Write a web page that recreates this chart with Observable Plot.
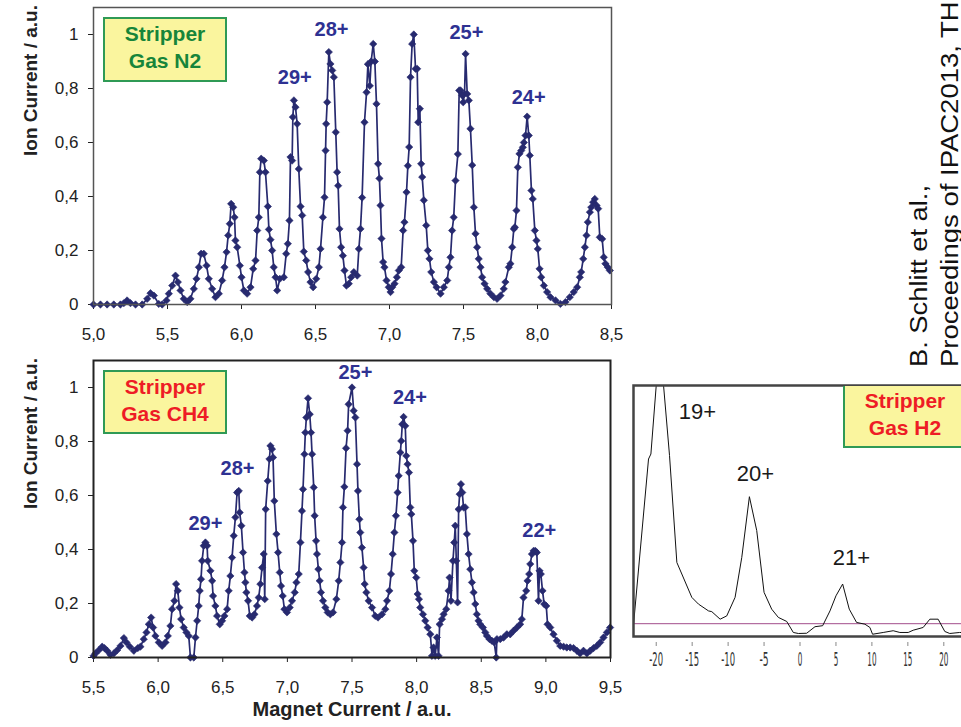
<!DOCTYPE html>
<html><head><meta charset="utf-8">
<script src="https://cdn.jsdelivr.net/npm/d3@7"></script>
<script src="https://cdn.jsdelivr.net/npm/@observablehq/plot@0.6"></script>
<style>
html,body{margin:0;padding:0;background:#fff;}
#root{position:relative;width:961px;height:727px;overflow:hidden;font-family:"Liberation Sans",Arial,sans-serif;}
.panel{position:absolute;}
.box{position:absolute;box-sizing:border-box;background:#faf59e;border:2px solid #2f9a55;text-align:center;font-weight:bold;font-size:21px;line-height:27px;padding-top:1px;}
</style></head><body><div id="root"></div>
<script>
// ---------- data ----------
const yTicks = [0, 0.2, 0.4, 0.6, 0.8, 1];
const xTicksN2 = [5.0, 5.5, 6.0, 6.5, 7.0, 7.5, 8.0, 8.5];
const xTicksCH4 = [5.5, 6.0, 6.5, 7.0, 7.5, 8.0, 8.5, 9.0, 9.5];
const xTicksH2 = [-20, -15, -10, -5, 0, 5, 10, 15, 20];

// Stripper gas N2: [magnet current, ion current]
const n2 = [[5.00,0],[5.047,0],[5.092,0],[5.137,0],[5.182,0],[5.205,0.005],[5.227,0.015],[5.25,0.005],[5.284,0],[5.329,0],[5.363,0.021],[5.385,0.042],[5.408,0.033],[5.441,0.002],[5.464,0],[5.493,0.015],[5.509,0.040],[5.532,0.070],[5.554,0.107],[5.570,0.083],[5.588,0.052],[5.610,0.021],[5.633,0.009],[5.655,0.021],[5.678,0.058],[5.696,0.095],[5.712,0.138],[5.727,0.188],[5.745,0.188],[5.764,0.144],[5.779,0.095],[5.802,0.058],[5.824,0.027],[5.847,0.040],[5.869,0.089],[5.885,0.138],[5.899,0.194],[5.910,0.256],[5.921,0.299],[5.930,0.373],[5.944,0.360],[5.953,0.323],[5.959,0.237],[5.971,0.212],[5.989,0.144],[6.000,0.101],[6.016,0.052],[6.038,0.040],[6.061,0.064],[6.079,0.132],[6.095,0.163],[6.106,0.274],[6.117,0.323],[6.124,0.490],[6.133,0.540],[6.151,0.533],[6.162,0.490],[6.178,0.363],[6.185,0.278],[6.196,0.240],[6.207,0.200],[6.218,0.138],[6.230,0.101],[6.241,0.052],[6.259,0.095],[6.286,0.101],[6.302,0.188],[6.313,0.225],[6.324,0.311],[6.331,0.546],[6.342,0.533],[6.347,0.694],[6.354,0.756],[6.365,0.731],[6.376,0.669],[6.387,0.502],[6.399,0.363],[6.410,0.330],[6.421,0.196],[6.437,0.163],[6.450,0.120],[6.466,0.083],[6.484,0.064],[6.505,0.095],[6.523,0.138],[6.534,0.206],[6.550,0.323],[6.561,0.397],[6.568,0.570],[6.572,0.669],[6.579,0.749],[6.590,0.935],[6.601,0.891],[6.613,0.867],[6.624,0.842],[6.637,0.638],[6.646,0.490],[6.653,0.440],[6.662,0.280],[6.673,0.212],[6.685,0.181],[6.696,0.126],[6.709,0.070],[6.725,0.077],[6.741,0.101],[6.759,0.120],[6.782,0.107],[6.793,0.206],[6.804,0.280],[6.815,0.396],[6.831,0.675],[6.845,0.786],[6.854,0.890],[6.867,0.810],[6.876,0.900],[6.890,0.965],[6.901,0.900],[6.912,0.743],[6.923,0.521],[6.932,0.467],[6.939,0.367],[6.946,0.244],[6.957,0.157],[6.966,0.138],[6.980,0.089],[6.995,0.064],[7.007,0.046],[7.018,0.064],[7.034,0.077],[7.050,0.101],[7.063,0.126],[7.079,0.138],[7.092,0.274],[7.101,0.305],[7.115,0.416],[7.124,0.514],[7.133,0.583],[7.142,0.842],[7.153,0.965],[7.164,1.0],[7.176,0.873],[7.187,0.873],[7.194,0.675],[7.205,0.725],[7.214,0.521],[7.221,0.472],[7.232,0.386],[7.248,0.293],[7.259,0.200],[7.270,0.169],[7.282,0.120],[7.300,0.083],[7.318,0.064],[7.345,0.040],[7.367,0.064],[7.390,0.089],[7.401,0.138],[7.412,0.175],[7.423,0.274],[7.434,0.323],[7.446,0.459],[7.462,0.557],[7.471,0.793],[7.480,0.793],[7.491,0.775],[7.498,0.749],[7.507,0.780],[7.514,0.928],[7.525,0.780],[7.536,0.756],[7.547,0.651],[7.559,0.516],[7.570,0.360],[7.581,0.262],[7.592,0.212],[7.603,0.169],[7.615,0.138],[7.626,0.101],[7.642,0.077],[7.660,0.058],[7.682,0.040],[7.705,0.027],[7.727,0.021],[7.750,0.033],[7.772,0.058],[7.783,0.083],[7.806,0.138],[7.817,0.151],[7.829,0.212],[7.840,0.280],[7.847,0.286],[7.858,0.348],[7.867,0.508],[7.878,0.558],[7.890,0.570],[7.901,0.582],[7.908,0.600],[7.919,0.626],[7.930,0.696],[7.941,0.626],[7.948,0.552],[7.959,0.422],[7.968,0.391],[7.982,0.274],[7.993,0.237],[8.002,0.206],[8.014,0.132],[8.025,0.101],[8.043,0.070],[8.065,0.046],[8.088,0.027],[8.122,0.015],[8.155,0.002],[8.189,0.009],[8.218,0.027],[8.245,0.046],[8.268,0.064],[8.286,0.101],[8.295,0.120],[8.309,0.169],[8.320,0.212],[8.331,0.256],[8.340,0.305],[8.354,0.342],[8.363,0.360],[8.376,0.379],[8.387,0.391],[8.399,0.367],[8.410,0.355],[8.421,0.249],[8.437,0.243],[8.448,0.175],[8.459,0.151],[8.475,0.138],[8.489,0.126]];

// Stripper gas CH4
const ch4 = [[5.5,0.006],[5.515,0.015],[5.541,0.027],[5.567,0.040],[5.585,0.035],[5.606,0.025],[5.631,0.010],[5.657,0.015],[5.683,0.027],[5.709,0.043],[5.735,0.072],[5.755,0.056],[5.781,0.040],[5.812,0.025],[5.843,0.035],[5.863,0.040],[5.889,0.068],[5.910,0.093],[5.928,0.123],[5.946,0.148],[5.961,0.111],[5.979,0.080],[6.005,0.056],[6.031,0.043],[6.057,0.056],[6.075,0.080],[6.095,0.117],[6.108,0.179],[6.126,0.210],[6.139,0.272],[6.152,0.247],[6.165,0.185],[6.178,0.142],[6.198,0.111],[6.219,0.093],[6.237,0.080],[6.250,0],[6.276,0],[6.289,0.074],[6.302,0.136],[6.314,0.191],[6.322,0.247],[6.332,0.290],[6.340,0.358],[6.353,0.414],[6.366,0.426],[6.379,0.414],[6.384,0.358],[6.405,0.321],[6.418,0.284],[6.425,0.228],[6.443,0.191],[6.456,0.154],[6.477,0.123],[6.495,0.136],[6.513,0.154],[6.534,0.179],[6.546,0.247],[6.559,0.302],[6.572,0.370],[6.585,0.451],[6.598,0.519],[6.611,0.611],[6.624,0.617],[6.631,0.537],[6.644,0.488],[6.657,0.389],[6.668,0.315],[6.675,0.278],[6.683,0.241],[6.696,0.210],[6.709,0.154],[6.727,0.148],[6.745,0.160],[6.765,0.191],[6.778,0.222],[6.791,0.272],[6.804,0.333],[6.817,0.383],[6.825,0.216],[6.832,0.549],[6.848,0.654],[6.861,0.735],[6.869,0.784],[6.881,0.772],[6.889,0.741],[6.899,0.580],[6.915,0.457],[6.928,0.389],[6.941,0.315],[6.951,0.265],[6.964,0.228],[6.977,0.179],[6.997,0.167],[7.018,0.185],[7.036,0.210],[7.057,0.241],[7.070,0.278],[7.088,0.309],[7.101,0.426],[7.113,0.543],[7.121,0.623],[7.132,0.753],[7.139,0.833],[7.147,0.889],[7.160,0.960],[7.173,0.901],[7.183,0.833],[7.191,0.753],[7.204,0.630],[7.211,0.525],[7.222,0.432],[7.229,0.383],[7.240,0.327],[7.250,0.284],[7.260,0.241],[7.276,0.210],[7.294,0.185],[7.312,0.167],[7.332,0.160],[7.353,0.167],[7.379,0.216],[7.397,0.284],[7.410,0.352],[7.423,0.426],[7.430,0.556],[7.441,0.632],[7.454,0.775],[7.466,0.840],[7.474,0.938],[7.500,1.0],[7.513,0.914],[7.526,0.889],[7.539,0.716],[7.546,0.617],[7.557,0.512],[7.564,0.463],[7.577,0.407],[7.590,0.333],[7.598,0.272],[7.611,0.241],[7.629,0.210],[7.655,0.185],[7.680,0.154],[7.701,0.148],[7.732,0.160],[7.758,0.179],[7.771,0.210],[7.789,0.247],[7.802,0.309],[7.815,0.383],[7.828,0.463],[7.840,0.525],[7.853,0.611],[7.861,0.673],[7.874,0.759],[7.881,0.802],[7.889,0.864],[7.899,0.891],[7.912,0.858],[7.920,0.747],[7.930,0.716],[7.941,0.685],[7.951,0.556],[7.959,0.531],[7.972,0.432],[7.982,0.321],[7.997,0.296],[8.008,0.235],[8.018,0.216],[8.028,0.185],[8.049,0.160],[8.067,0.136],[8.085,0.111],[8.106,0.086],[8.119,0.006],[8.131,0.037],[8.144,0.006],[8.157,0.074],[8.170,0.006],[8.178,0.123],[8.196,0.142],[8.209,0.160],[8.229,0.179],[8.247,0.247],[8.255,0.296],[8.266,0.210],[8.281,0.358],[8.291,0.426],[8.299,0.488],[8.307,0.358],[8.317,0.204],[8.325,0.549],[8.333,0.605],[8.343,0.642],[8.353,0.611],[8.363,0.556],[8.376,0.556],[8.389,0.457],[8.402,0.383],[8.415,0.327],[8.428,0.278],[8.441,0.241],[8.454,0.198],[8.466,0.160],[8.479,0.136],[8.492,0.123],[8.513,0.111],[8.531,0.093],[8.544,0.080],[8.564,0.068],[8.582,0.062],[8.600,0.056],[8.616,0],[8.621,0.068],[8.647,0.068],[8.673,0.074],[8.698,0.086],[8.724,0.086],[8.750,0.099],[8.776,0.111],[8.801,0.123],[8.814,0.142],[8.827,0.222],[8.848,0.247],[8.858,0.284],[8.871,0.309],[8.879,0.346],[8.892,0.383],[8.905,0.395],[8.918,0.395],[8.930,0.389],[8.943,0.210],[8.951,0.321],[8.961,0.309],[8.974,0.247],[8.987,0.198],[9.003,0.191],[9.013,0.123],[9.034,0.111],[9.059,0.086],[9.085,0.062],[9.111,0.043],[9.137,0.040],[9.162,0.037],[9.188,0.037],[9.214,0.035],[9.240,0.025],[9.265,0.015],[9.291,0.025],[9.317,0.015],[9.343,0.025],[9.369,0.035],[9.394,0.043],[9.420,0.056],[9.446,0.074],[9.472,0.093],[9.497,0.111]];

// Stripper gas H2 (arbitrary units)
const h2 = [[-23.15,4.9],[-21.07,70.7],[-20.74,72.7],[-20.0,100],[-18.98,100],[-18.15,72.1],[-17.13,29.5],[-16.44,24.9],[-15.05,15.6],[-14.12,12.9],[-12.73,10.2],[-12.27,9.9],[-11.11,6.9],[-10.19,8.2],[-9.03,15.6],[-8.10,31.5],[-7.04,55.7],[-6.02,42.2],[-5.0,17.6],[-3.94,10.9],[-3.01,7.6],[-1.85,6.0],[-0.93,1.6],[-0.23,1.2],[0.93,1.3],[2.08,3.9],[3.15,4.3],[4.17,10.2],[5.0,16.2],[5.93,20.9],[6.85,10.9],[7.87,5.6],[9.03,4.9],[9.72,3.6],[10.09,0.9],[11.57,1.6],[12.96,2.3],[13.89,1.6],[15.05,1.6],[15.74,2.5],[17.13,3.6],[18.06,6.9],[19.21,6.9],[20.14,2.0],[20.83,1.2],[22.2,1.6],[24.5,1.5]];
const h2Baseline = 5.1;

// charge state labels
const n2PeakText = ["29+", "28+", "25+", "24+"];
const n2PeakX = [6.36, 6.608, 7.52, 7.94];
const n2PeakY = [0.841, 1.019, 1.007, 0.767];
const ch4PeakText = ["29+", "28+", "25+", "24+", "22+"];
const ch4PeakX = [6.366, 6.614, 7.526, 7.948, 8.949];
const ch4PeakY = [0.496, 0.70, 1.056, 0.963, 0.470];
const h2PeakText = ["19+", "20+", "21+"];
const h2PeakX = [-14.26, -6.19, 7.16];
const h2PeakY = [89.6, 64.9, 31.4];

// ---------- rendering ----------
const navy = "#272a6f";
const labelBlue = "#2e3192";
const font = "'Liberation Sans', Arial, sans-serif";
const fmtComma = d => String(d).replace(".", ",");
const fmtComma1 = d => d3.format(".1f")(d).replace(".", ",");
const peaks = (t, xs, ys) => t.map((text, i) => ({text, x: xs[i], y: ys[i]}));
const root = document.getElementById("root");

function place(node, left, top) {
  node.classList.add("panel");
  node.style.left = left + "px";
  node.style.top = top + "px";
  root.appendChild(node);
}

function ionPanel({data, xDomain, xTicks, labels, height, marginTop, marginBottom, marginRight, frameColor, frameWidth, extra = []}) {
  return Plot.plot({
    width: 640, height,
    marginLeft: 93, marginRight, marginTop, marginBottom,
    x: {domain: xDomain},
    y: {domain: [0, 1.1]},
    style: {fontFamily: font, fontSize: "17px", color: "#222", background: "transparent", overflow: "visible"},
    marks: [
      Plot.axisY({ticks: yTicks, tickFormat: fmtComma, tickSize: 5, tickPadding: 10, label: null}),
      Plot.axisX({ticks: xTicks, tickFormat: fmtComma1, tickSize: 5, tickPadding: 18, label: null}),
      Plot.line(data, {x: d => d[0], y: d => d[1], stroke: navy, strokeWidth: 1.7}),
      Plot.dot(data, {x: d => d[0], y: d => d[1], symbol: "diamond2", r: 3.3, fill: navy, stroke: navy, strokeWidth: 0.6}),
      Plot.text(labels, {x: "x", y: "y", text: "text", fill: labelBlue, fontWeight: "bold", fontSize: 20}),
      Plot.text(["Ion Current / a.u."], {text: d => d, frameAnchor: "left", dx: -63, rotate: -90, fontWeight: "bold", fontSize: 19, fill: "#222"}),
      ...extra,
      Plot.frame({stroke: frameColor, strokeWidth: frameWidth})
    ]
  });
}

place(ionPanel({
  data: n2, xDomain: [5, 8.5], xTicks: xTicksN2,
  labels: peaks(n2PeakText, n2PeakX, n2PeakY),
  height: 345, marginTop: 7, marginBottom: 41, marginRight: 29,
  frameColor: "#555", frameWidth: 1.5
}), 0, 0);

place(ionPanel({
  data: ch4, xDomain: [5.5, 9.5], xTicks: xTicksCH4,
  labels: peaks(ch4PeakText, ch4PeakX, ch4PeakY),
  height: 382, marginTop: 15, marginBottom: 70, marginRight: 30,
  frameColor: "#222", frameWidth: 2,
  extra: [Plot.text(["Magnet Current / a.u."], {text: d => d, frameAnchor: "bottom", dy: 58, fontWeight: "bold", fontSize: 20, fill: "#222"})]
}), 0, 345);

const h2Plot = Plot.plot({
  width: 380, height: 357,
  marginLeft: 13, marginRight: 15, marginTop: 15, marginBottom: 85,
  x: {domain: [-23.16, 25.8]},
  y: {domain: [0, 100], insetBottom: 6, axis: null},
  style: {fontFamily: "'DejaVu Sans Condensed', 'Liberation Sans', sans-serif", fontSize: "19px", color: "#333", background: "transparent", overflow: "visible"},
  marks: [
    Plot.ruleY([h2Baseline], {stroke: "#a24d8c", strokeWidth: 1}),
    Plot.line(h2, {x: d => d[0], y: d => d[1], stroke: "#111", strokeWidth: 1, clip: true}),
    Plot.text(peaks(h2PeakText, h2PeakX, h2PeakY), {x: "x", y: "y", text: "text", fontFamily: font, fontSize: 22, fill: "#1a1a1a"}),
    Plot.axisX({ticks: xTicksH2, tickFormat: d => String(d), tickSize: 4, tickPadding: 6, label: null, stroke: "#888"}),
    Plot.frame({insetBottom: 6, stroke: "#444", strokeWidth: 2.5})
  ]
});
h2Plot.querySelectorAll("text").forEach(t => {
  if (/^-?\d+$/.test(t.textContent.trim())) {
    t.setAttribute("textLength", 4.6 * t.textContent.trim().length);
    t.setAttribute("lengthAdjust", "spacingAndGlyphs");
  }
});
place(h2Plot, 620, 370);

// legend boxes
function box(lines, color, left, top, width, height, extraStyle = "") {
  const d = document.createElement("div");
  d.className = "box";
  d.style.cssText = `left:${left}px;top:${top}px;width:${width}px;height:${height}px;color:${color};${extraStyle}`;
  d.innerHTML = lines.join("<br>");
  root.appendChild(d);
}
box(["Stripper", "Gas N2"], "#17853a", 103, 17, 124, 65);
box(["Stripper", "Gas CH4"], "#ee1c25", 103, 370, 124, 64);
box(["Stripper", "Gas H2"], "#ee1c25", 843, 386, 124, 62, "border-top:none;");

// rotated citation
const ns = "http://www.w3.org/2000/svg";
const cite = document.createElementNS(ns, "svg");
cite.setAttribute("width", 961); cite.setAttribute("height", 727);
cite.style.cssText = "position:absolute;left:0;top:0;pointer-events:none;";
[["B. Schlitt et al.,", 927, 182], ["Proceedings of IPAC2013, THP", 958, 384]].forEach(([s, x, len]) => {
  const t = document.createElementNS(ns, "text");
  t.setAttribute("transform", `translate(${x},367) rotate(-90)`);
  t.setAttribute("font-family", "Liberation Sans, Arial, sans-serif");
  t.setAttribute("font-size", "23");
  t.setAttribute("fill", "#111");
  t.setAttribute("textLength", len);
  t.setAttribute("lengthAdjust", "spacingAndGlyphs");
  t.textContent = s;
  cite.appendChild(t);
});
root.appendChild(cite);
</script></body></html>
